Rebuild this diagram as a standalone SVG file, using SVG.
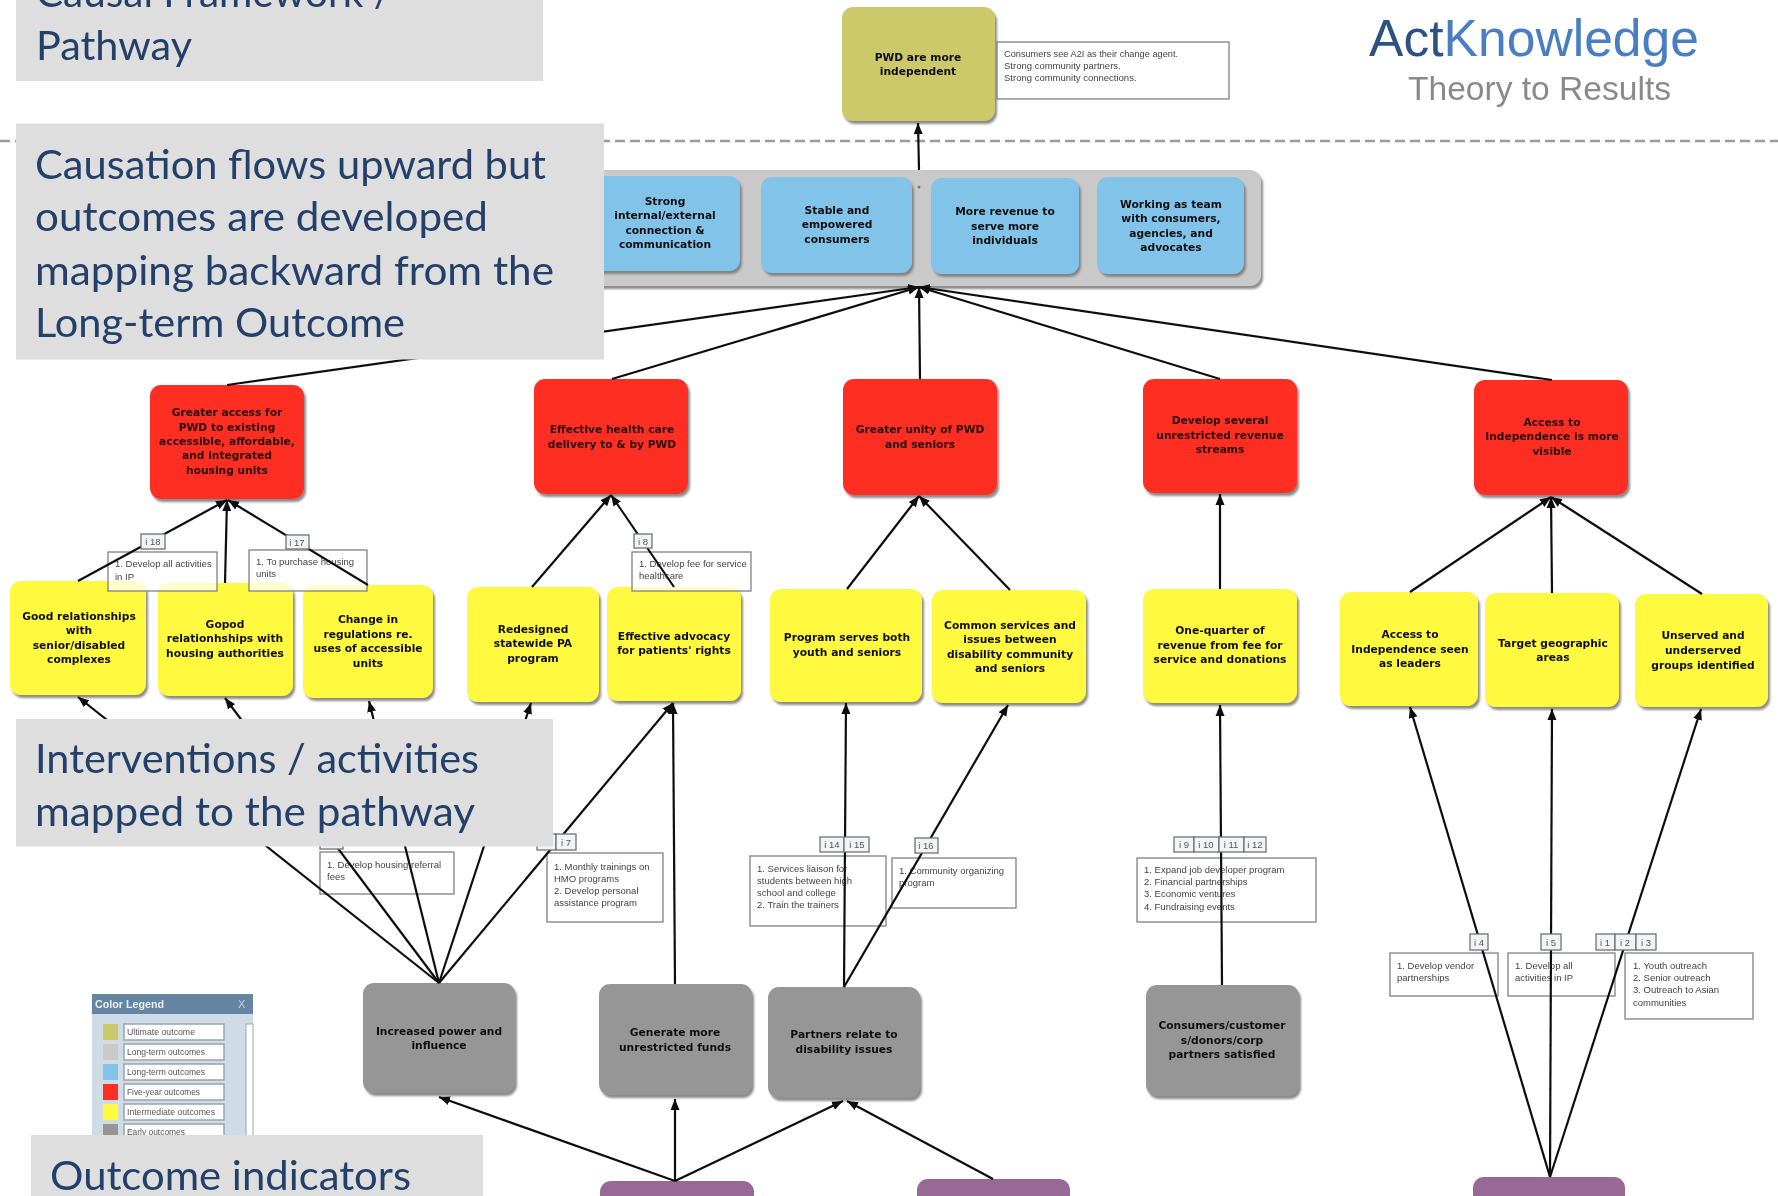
<svg xmlns="http://www.w3.org/2000/svg" width="1778" height="1196" viewBox="0 0 1778 1196">
<style>
text{font-family:"DejaVu Sans",sans-serif}
.n{filter:url(#sh)}
.t{font-size:10.7px;font-weight:700;text-anchor:middle;fill:#111}
.ti{font-size:10.7px;font-weight:700;text-anchor:middle;fill:#2a0a05}
.ol{fill:#CCC96B}.bl{fill:#82C3EA}.re{fill:#FF2F20}.ye{fill:#FFF93F}.gr{fill:#969696}.pu{fill:#986896}
.note{fill:#fff;fill-opacity:.72;stroke:#808080;stroke-width:1.3}
.nt{font-family:"Liberation Sans",Arial,sans-serif;font-size:9.5px;fill:#444}
.tag{fill:#F1F5F8;stroke:#707070;stroke-width:1.3}
.tt{font-family:"Liberation Sans",Arial,sans-serif;font-size:9.5px;fill:#555;text-anchor:middle}
.ca{stroke:#111;stroke-width:2.2;fill:none;marker-end:url(#ah)}
.lab{fill:#DEDEDE}
.lt{font-family:Lato,"Open Sans",sans-serif;font-size:41px;fill:#24406A}
.lg{font-family:"Liberation Sans",Arial,sans-serif;font-size:9px;fill:#555}
.lb{fill:#fff;stroke:#9aa5ad;stroke-width:1.5}
</style>
<defs>
<filter id="sh" x="-10%" y="-10%" width="125%" height="125%"><feDropShadow dx="2" dy="3" stdDeviation="1" flood-color="#777" flood-opacity=".85"/></filter>
<filter id="soft" x="0" y="0" width="100%" height="100%" filterUnits="userSpaceOnUse"><feGaussianBlur stdDeviation=".45"/></filter>
<marker id="ah" markerUnits="userSpaceOnUse" markerWidth="12" markerHeight="10" refX="11" refY="5" orient="auto"><path d="M0 0.5L11 5L0 9.5Z" fill="#111"/></marker>
</defs>
<rect width="1778" height="1196" fill="#fff"/>
<g id="picture" filter="url(#soft)">
<line x1="0" y1="141" x2="1778" y2="141" stroke="#9a9a9a" stroke-width="2.5" stroke-dasharray="10 5"/>

<g id="logo">
<text x="1369" y="56" textLength="330" lengthAdjust="spacingAndGlyphs" style="font-family:'Liberation Sans',Arial,sans-serif;font-size:52px" fill="#4A7EC2"><tspan fill="#2E5184">Act</tspan>Knowledge</text>
<text x="1408" y="100" textLength="263" lengthAdjust="spacingAndGlyphs" style="font-family:'Liberation Sans',Arial,sans-serif;font-size:34px" fill="#8a8a8a">Theory to Results</text>
</g>

<g id="ultimate" class="n"><rect x="842" y="7" width="153" height="114" rx="11" class="ol"/><text class="t" x="918" y="61">PWD are more</text><text class="t" x="918" y="75">independent</text></g>

<g id="longterm-group" class="n"><rect x="570" y="170" width="691" height="116" rx="11" fill="#C9C9C9"/></g>
<g id="lt1" class="n"><rect x="580" y="176" width="160" height="95" rx="11" class="bl"/><text class="t" x="665" y="205">Strong</text><text class="t" x="665" y="219">internal/external</text><text class="t" x="665" y="234">connection &amp;</text><text class="t" x="665" y="248">communication</text></g>
<g id="lt2" class="n"><rect x="761" y="177" width="151" height="96" rx="11" class="bl"/><text class="t" x="837" y="214">Stable and</text><text class="t" x="837" y="228">empowered</text><text class="t" x="837" y="243">consumers</text></g>
<g id="lt3" class="n"><rect x="931" y="178" width="148" height="96" rx="11" class="bl"/><text class="t" x="1005" y="215">More revenue to</text><text class="t" x="1005" y="230">serve more</text><text class="t" x="1005" y="244">individuals</text></g>
<g id="lt4" class="n"><rect x="1097" y="177" width="147" height="97" rx="11" class="bl"/><text class="t" x="1171" y="208">Working as team</text><text class="t" x="1171" y="222">with consumers,</text><text class="t" x="1171" y="237">agencies, and</text><text class="t" x="1171" y="251">advocates</text></g>
<circle cx="919" cy="187" r="1.5" fill="#777"/>

<g id="r1" class="n"><rect x="150" y="385" width="154" height="114" rx="11" class="re"/><text class="ti" x="227" y="416">Greater access for</text><text class="ti" x="227" y="431">PWD to existing</text><text class="ti" x="227" y="445">accessible, affordable,</text><text class="ti" x="227" y="459">and integrated</text><text class="ti" x="227" y="474">housing units</text></g>
<g id="r2" class="n"><rect x="534" y="379" width="154" height="115" rx="11" class="re"/><text class="ti" x="612" y="433">Effective health care</text><text class="ti" x="612" y="448">delivery to &amp; by PWD</text></g>
<g id="r3" class="n"><rect x="843" y="379" width="154" height="116" rx="11" class="re"/><text class="ti" x="920" y="433">Greater unity of PWD</text><text class="ti" x="920" y="448">and seniors</text></g>
<g id="r4" class="n"><rect x="1143" y="379" width="154" height="114" rx="11" class="re"/><text class="ti" x="1220" y="424">Develop several</text><text class="ti" x="1220" y="439">unrestricted revenue</text><text class="ti" x="1220" y="453">streams</text></g>
<g id="r5" class="n"><rect x="1474" y="380" width="154" height="115" rx="11" class="re"/><text class="ti" x="1552" y="426">Access to</text><text class="ti" x="1552" y="440">Independence is more</text><text class="ti" x="1552" y="455">visible</text></g>

<g id="y1" class="n"><rect x="10" y="581" width="136" height="114" rx="11" class="ye"/><text class="t" x="79" y="620">Good relationships</text><text class="t" x="79" y="634">with</text><text class="t" x="79" y="649">senior/disabled</text><text class="t" x="79" y="663">complexes</text></g>
<g id="y2" class="n"><rect x="158" y="583" width="135" height="113" rx="11" class="ye"/><text class="t" x="225" y="628">Gopod</text><text class="t" x="225" y="642">relationhships with</text><text class="t" x="225" y="657">housing authorities</text></g>
<g id="y3" class="n"><rect x="303" y="585" width="130" height="113" rx="11" class="ye"/><text class="t" x="368" y="623">Change in</text><text class="t" x="368" y="638">regulations re.</text><text class="t" x="368" y="652">uses of accessible</text><text class="t" x="368" y="667">units</text></g>
<g id="y4" class="n"><rect x="467" y="587" width="132" height="115" rx="11" class="ye"/><text class="t" x="533" y="633">Redesigned</text><text class="t" x="533" y="647">statewide PA</text><text class="t" x="533" y="662">program</text></g>
<g id="y5" class="n"><rect x="607" y="587" width="134" height="114" rx="11" class="ye"/><text class="t" x="674" y="640">Effective advocacy</text><text class="t" x="674" y="654">for patients' rights</text></g>
<g id="y6" class="n"><rect x="770" y="589" width="152" height="113" rx="11" class="ye"/><text class="t" x="847" y="641">Program serves both</text><text class="t" x="847" y="656">youth and seniors</text></g>
<g id="y7" class="n"><rect x="932" y="590" width="154" height="113" rx="11" class="ye"/><text class="t" x="1010" y="629">Common services and</text><text class="t" x="1010" y="643">issues between</text><text class="t" x="1010" y="658">disability community</text><text class="t" x="1010" y="672">and seniors</text></g>
<g id="y8" class="n"><rect x="1143" y="589" width="154" height="114" rx="11" class="ye"/><text class="t" x="1220" y="634">One-quarter of</text><text class="t" x="1220" y="649">revenue from fee for</text><text class="t" x="1220" y="663">service and donations</text></g>
<g id="y9" class="n"><rect x="1340" y="592" width="138" height="114" rx="11" class="ye"/><text class="t" x="1410" y="638">Access to</text><text class="t" x="1410" y="653">Independence seen</text><text class="t" x="1410" y="667">as leaders</text></g>
<g id="y10" class="n"><rect x="1485" y="593" width="134" height="114" rx="11" class="ye"/><text class="t" x="1553" y="647">Target geographic</text><text class="t" x="1553" y="661">areas</text></g>
<g id="y11" class="n"><rect x="1635" y="594" width="133" height="113" rx="11" class="ye"/><text class="t" x="1703" y="639">Unserved and</text><text class="t" x="1703" y="654">underserved</text><text class="t" x="1703" y="669">groups identified</text></g>

<g id="g1" class="n"><rect x="363" y="983" width="152" height="110" rx="11" class="gr"/><text class="t" x="439" y="1035">Increased power and</text><text class="t" x="439" y="1049">influence</text></g>
<g id="g2" class="n"><rect x="599" y="984" width="153" height="111" rx="11" class="gr"/><text class="t" x="675" y="1036">Generate more</text><text class="t" x="675" y="1051">unrestricted funds</text></g>
<g id="g3" class="n"><rect x="768" y="987" width="152" height="111" rx="11" class="gr"/><text class="t" x="844" y="1038">Partners relate to</text><text class="t" x="844" y="1053">disability issues</text></g>
<g id="g4" class="n"><rect x="1146" y="985" width="153" height="111" rx="11" class="gr"/><text class="t" x="1222" y="1029">Consumers/customer</text><text class="t" x="1222" y="1044">s/donors/corp</text><text class="t" x="1222" y="1058">partners satisfied</text></g>

<g id="p1"><rect x="600" y="1181" width="154" height="60" rx="11" class="pu"/></g>
<g id="p2"><rect x="917" y="1179" width="153" height="60" rx="11" class="pu"/></g>
<g id="p3"><rect x="1473" y="1177" width="152" height="60" rx="11" class="pu"/></g>

<g id="notes">
<rect class="note" x="997" y="42" width="232" height="57"/>
<text class="nt" x="1004" y="57" textLength="174" lengthAdjust="spacingAndGlyphs">Consumers see A2I as their change agent.</text><text class="nt" x="1004" y="69">Strong community partners.</text><text class="nt" x="1004" y="81">Strong community connections.</text>
<rect class="note" x="108" y="552" width="109" height="39"/><text class="nt" x="115" y="567">1. Develop all activities</text><text class="nt" x="115" y="580">in IP</text>
<rect class="note" x="249" y="550" width="118" height="41"/><text class="nt" x="256" y="565">1. To purchase housing</text><text class="nt" x="256" y="577">units</text>
<rect class="note" x="632" y="552" width="119" height="39"/><text class="nt" x="639" y="567">1. Develop fee for service</text><text class="nt" x="639" y="579">healthcare</text>
<rect class="note" x="320" y="852" width="134" height="42"/><text class="nt" x="327" y="868">1. Develop housing referral</text><text class="nt" x="327" y="880">fees</text>
<rect class="note" x="547" y="853" width="116" height="69"/><text class="nt" x="554" y="870">1. Monthly trainings on</text><text class="nt" x="554" y="882">HMO programs</text><text class="nt" x="554" y="894">2. Develop personal</text><text class="nt" x="554" y="906">assistance program</text>
<rect class="note" x="750" y="856" width="136" height="70"/><text class="nt" x="757" y="872">1. Services liaison for</text><text class="nt" x="757" y="884">students between high</text><text class="nt" x="757" y="896">school and college</text><text class="nt" x="757" y="908">2. Train the trainers</text>
<rect class="note" x="892" y="858" width="124" height="50"/><text class="nt" x="899" y="874">1. Community organizing</text><text class="nt" x="899" y="886">program</text>
<rect class="note" x="1137" y="858" width="179" height="64"/><text class="nt" x="1144" y="873">1. Expand job developer program</text><text class="nt" x="1144" y="885">2. Financial partnerships</text><text class="nt" x="1144" y="897">3. Economic ventures</text><text class="nt" x="1144" y="910">4. Fundraising events</text>
<rect class="note" x="1390" y="953" width="108" height="43"/><text class="nt" x="1397" y="969">1. Develop vendor</text><text class="nt" x="1397" y="981">partnerships</text>
<rect class="note" x="1508" y="953" width="107" height="43"/><text class="nt" x="1515" y="969">1. Develop all</text><text class="nt" x="1515" y="981">activities in IP</text>
<rect class="note" x="1625" y="953" width="128" height="66"/><text class="nt" x="1633" y="969">1. Youth outreach</text><text class="nt" x="1633" y="981">2. Senior outreach</text><text class="nt" x="1633" y="993">3. Outreach to Asian</text><text class="nt" x="1633" y="1006">communities</text>
</g>

<g id="connectors">
<line class="ca" x1="919" y1="170" x2="918" y2="123"/>
<line class="ca" x1="227" y1="385" x2="919" y2="287"/>
<line class="ca" x1="612" y1="379" x2="919" y2="287"/>
<line class="ca" x1="920" y1="379" x2="919" y2="287"/>
<line class="ca" x1="1220" y1="379" x2="919" y2="287"/>
<line class="ca" x1="1552" y1="380" x2="919" y2="287"/>
<line class="ca" x1="78" y1="581" x2="227" y2="500"/>
<line class="ca" x1="225" y1="583" x2="227" y2="500"/>
<line class="ca" x1="368" y1="585" x2="228" y2="500"/>
<line class="ca" x1="532" y1="587" x2="611" y2="495"/>
<line class="ca" x1="674" y1="587" x2="611" y2="495"/>
<line class="ca" x1="847" y1="589" x2="919" y2="496"/>
<line class="ca" x1="1010" y1="590" x2="919" y2="496"/>
<line class="ca" x1="1220" y1="589" x2="1220" y2="494"/>
<line class="ca" x1="1410" y1="592" x2="1551" y2="497"/>
<line class="ca" x1="1552" y1="593" x2="1551" y2="497"/>
<line class="ca" x1="1702" y1="594" x2="1551" y2="497"/>
<line class="ca" x1="439" y1="983" x2="78" y2="697"/>
<line class="ca" x1="439" y1="983" x2="225" y2="698"/>
<line class="ca" x1="439" y1="983" x2="369" y2="701"/>
<line class="ca" x1="439" y1="983" x2="531" y2="703"/>
<line class="ca" x1="439" y1="983" x2="673" y2="703"/>
<line class="ca" x1="675" y1="984" x2="673" y2="703"/>
<line class="ca" x1="844" y1="987" x2="846" y2="703"/>
<line class="ca" x1="844" y1="987" x2="1008" y2="705"/>
<line class="ca" x1="1222" y1="985" x2="1220" y2="705"/>
<line class="ca" x1="1550" y1="1177" x2="1410" y2="707"/>
<line class="ca" x1="1550" y1="1177" x2="1552" y2="709"/>
<line class="ca" x1="1550" y1="1177" x2="1701" y2="709"/>
<line class="ca" x1="675" y1="1181" x2="439" y2="1097"/>
<line class="ca" x1="675" y1="1181" x2="675" y2="1099"/>
<line class="ca" x1="675" y1="1181" x2="843" y2="1101"/>
<line class="ca" x1="993" y1="1179" x2="847" y2="1101"/>
</g>

<g id="tags">
<rect class="tag" x="141" y="534" width="24" height="15"/><text class="tt" x="153" y="545">i 18</text>
<rect class="tag" x="286" y="535" width="23" height="14"/><text class="tt" x="297" y="546">i 17</text>
<rect class="tag" x="634" y="534" width="18" height="14"/><text class="tt" x="643" y="545">i 8</text>
<rect class="tag" x="320" y="834" width="23" height="15"/>
<rect class="tag" x="537" y="834" width="19" height="16"/><rect class="tag" x="556" y="834" width="20" height="16"/><text class="tt" x="566" y="846">i 7</text>
<rect class="tag" x="820" y="837" width="24" height="15"/><rect class="tag" x="844" y="837" width="25" height="15"/><text class="tt" x="832" y="848">i 14</text><text class="tt" x="857" y="848">i 15</text>
<rect class="tag" x="915" y="838" width="23" height="15"/><text class="tt" x="926" y="849">i 16</text>
<rect class="tag" x="1174" y="837" width="20" height="15"/><rect class="tag" x="1194" y="837" width="25" height="15"/><rect class="tag" x="1219" y="837" width="25" height="15"/><rect class="tag" x="1244" y="837" width="22" height="15"/>
<text class="tt" x="1184" y="848">i 9</text><text class="tt" x="1206" y="848">i 10</text><text class="tt" x="1231" y="848">i 11</text><text class="tt" x="1255" y="848">i 12</text>
<rect class="tag" x="1470" y="934" width="18" height="16"/><text class="tt" x="1479" y="946">i 4</text>
<rect class="tag" x="1541" y="934" width="20" height="16"/><text class="tt" x="1551" y="946">i 5</text>
<rect class="tag" x="1596" y="934" width="19" height="16"/><rect class="tag" x="1615" y="934" width="21" height="16"/><rect class="tag" x="1636" y="934" width="20" height="16"/>
<text class="tt" x="1605" y="946">i 1</text><text class="tt" x="1625" y="946">i 2</text><text class="tt" x="1646" y="946">i 3</text>
</g>

<g id="legend">
<rect x="92" y="994" width="161" height="150" fill="#CFDCE6"/>
<rect x="92" y="994" width="161" height="20" fill="#6585A3"/>
<text x="95" y="1008" textLength="69" lengthAdjust="spacingAndGlyphs" style="font-size:11px;font-weight:700;font-family:'Liberation Sans',Arial,sans-serif" fill="#e9eff4">Color Legend</text>
<text x="238" y="1008" style="font-size:11px;font-family:'Liberation Sans',Arial,sans-serif" fill="#c5d2dd">X</text>
<rect x="246" y="1024" width="7" height="120" fill="#fff" stroke="#9aa5ad"/>
<rect x="103" y="1024" width="15" height="16" class="ol"/><rect class="lb" x="124" y="1024" width="100" height="16"/><text class="lg" x="127" y="1035" textLength="68" lengthAdjust="spacingAndGlyphs">Ultimate outcome</text>
<rect x="103" y="1044" width="15" height="16" fill="#C9C9C9"/><rect class="lb" x="124" y="1044" width="100" height="16"/><text class="lg" x="127" y="1055" textLength="78" lengthAdjust="spacingAndGlyphs">Long-term outcomes</text>
<rect x="103" y="1064" width="15" height="16" class="bl"/><rect class="lb" x="124" y="1064" width="100" height="16"/><text class="lg" x="127" y="1075" textLength="78" lengthAdjust="spacingAndGlyphs">Long-term outcomes</text>
<rect x="103" y="1084" width="15" height="16" class="re"/><rect class="lb" x="124" y="1084" width="100" height="16"/><text class="lg" x="127" y="1095" textLength="73" lengthAdjust="spacingAndGlyphs">Five-year outcomes</text>
<rect x="103" y="1104" width="15" height="16" class="ye"/><rect class="lb" x="124" y="1104" width="100" height="16"/><text class="lg" x="127" y="1115" textLength="88" lengthAdjust="spacingAndGlyphs">Intermediate outcomes</text>
<rect x="103" y="1124" width="15" height="16" class="gr"/><rect class="lb" x="124" y="1124" width="100" height="16"/><text class="lg" x="127" y="1135" textLength="58" lengthAdjust="spacingAndGlyphs">Early outcomes</text>
</g>

<g id="labels">
<rect class="lab" x="16" y="0" width="527" height="81"/>
<text class="lt" x="36" y="7" textLength="356" lengthAdjust="spacingAndGlyphs">Causal Framework /</text>
<text class="lt" x="36" y="60" textLength="156" lengthAdjust="spacingAndGlyphs">Pathway</text>
<rect class="lab" x="16" y="123.500" width="588" height="236"/>
<text class="lt" x="35" y="179" textLength="511" lengthAdjust="spacingAndGlyphs">Causation flows upward but</text>
<text class="lt" x="35" y="231" textLength="453" lengthAdjust="spacingAndGlyphs">outcomes are developed</text>
<text class="lt" x="35" y="285" textLength="519" lengthAdjust="spacingAndGlyphs">mapping backward from the</text>
<text class="lt" x="35" y="337" textLength="370" lengthAdjust="spacingAndGlyphs">Long-term Outcome</text>
<rect class="lab" x="16" y="719" width="537" height="127.500"/>
<text class="lt" x="35" y="773" textLength="444" lengthAdjust="spacingAndGlyphs">Interventions / activities</text>
<text class="lt" x="35" y="826" textLength="440" lengthAdjust="spacingAndGlyphs">mapped to the pathway</text>
<rect class="lab" x="31" y="1135" width="452" height="61"/>
<text class="lt" x="50" y="1190" textLength="361" lengthAdjust="spacingAndGlyphs">Outcome indicators</text>
</g>
</g>
</svg>
